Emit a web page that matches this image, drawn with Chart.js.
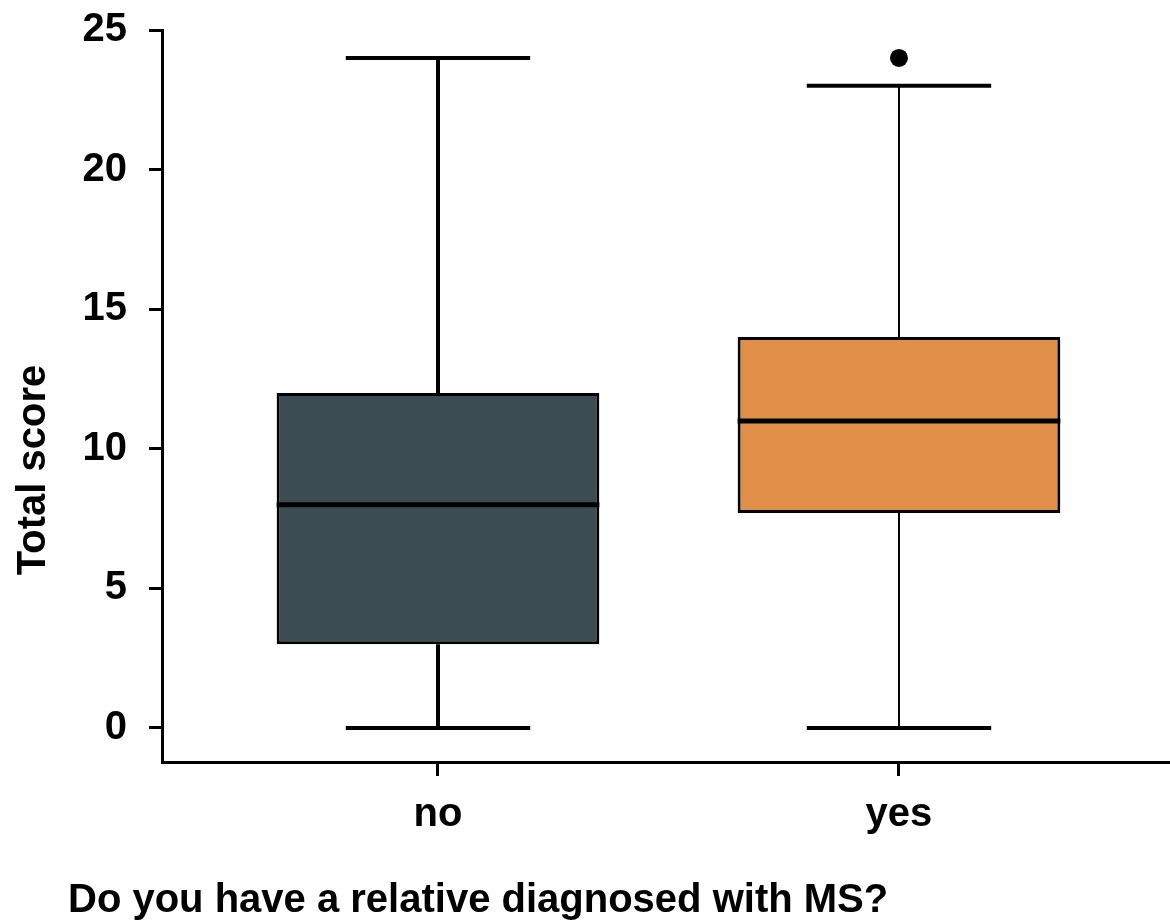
<!DOCTYPE html>
<html>
<head>
<meta charset="utf-8">
<script src="https://cdn.jsdelivr.net/npm/chart.js@4/dist/chart.umd.min.js"></script>
<style>
    body { margin: 0; background: #ffffff; }
    #wrap { width: 1170px; height: 922px; }
</style>
</head>
<body>
<div id="wrap"><canvas id="chartBox" width="1170" height="922"></canvas></div>
<script>
var categories = ["no", "yes"];
var whiskerLow = [0, 0];
var q1 = [3, 7.7];
var medians = [8, 11];
var q3 = [12, 14];
var whiskerHigh = [24, 23];
var outliers = [[], [24]];
var yTickValues = [0, 5, 10, 15, 20, 25];

var xTitle = "Do you have a relative diagnosed with MS?";
var yTitle = "Total score";

var boxColors = ["#3b4d53", "#df8f47"];
var whiskerWidths = [4, 2];
var FONT = "'Liberation Sans', Arial, sans-serif";

var boxData = categories.map(function (c, i) {
    return {x: i + 1, y: [q1[i], q3[i]]};
});
var outlierData = [];
outliers.forEach(function (list, i) {
    list.forEach(function (v) {
        outlierData.push({x: i + 1, y: v});
    });
});

// whiskers, caps and medians drawn on top of the floating bars
var boxPlotLines = {
    id: 'boxPlotLines',
    afterDatasetsDraw: function (chart) {
        var ctx = chart.ctx;
        var x = chart.scales.x;
        var y = chart.scales.y;
        var bars = chart.getDatasetMeta(0).data;
        ctx.save();
        ctx.strokeStyle = "#000";
        ctx.lineCap = "butt";
        categories.forEach(function (c, i) {
            var cx = x.getPixelForValue(i + 1);
            var half = x.getPixelForValue(i + 1.2) - cx;

            ctx.lineWidth = whiskerWidths[i];
            ctx.beginPath();
            ctx.moveTo(cx, y.getPixelForValue(q3[i]));
            ctx.lineTo(cx, y.getPixelForValue(whiskerHigh[i]));
            ctx.moveTo(cx, y.getPixelForValue(q1[i]));
            ctx.lineTo(cx, y.getPixelForValue(whiskerLow[i]));
            ctx.stroke();

            ctx.lineWidth = 4;
            ctx.beginPath();
            ctx.moveTo(cx - half, y.getPixelForValue(whiskerHigh[i]));
            ctx.lineTo(cx + half, y.getPixelForValue(whiskerHigh[i]));
            ctx.moveTo(cx - half, y.getPixelForValue(whiskerLow[i]));
            ctx.lineTo(cx + half, y.getPixelForValue(whiskerLow[i]));
            ctx.stroke();

            var bar = bars[i];
            ctx.lineWidth = 5;
            ctx.beginPath();
            ctx.moveTo(bar.x - bar.width / 2, y.getPixelForValue(medians[i]));
            ctx.lineTo(bar.x + bar.width / 2, y.getPixelForValue(medians[i]));
            ctx.stroke();
        });
        ctx.restore();
    }
};

var axisTitles = {
    id: 'axisTitles',
    afterDraw: function (chart) {
        var ctx = chart.ctx;
        ctx.save();
        ctx.fillStyle = "#000";
        ctx.font = "bold 40px " + FONT;
        ctx.textAlign = "left";
        ctx.textBaseline = "alphabetic";
        ctx.fillText(xTitle, 68, 912);

        ctx.translate(45, 470);
        ctx.rotate(-Math.PI / 2);
        ctx.textAlign = "center";
        ctx.fillText(yTitle, 0, 0);
        ctx.restore();
    }
};

var chart = new Chart("chartBox", {
    type: "bar",
    data: {
        datasets: [{
            data: boxData,
            backgroundColor: boxColors,
            borderColor: "#000",
            borderWidth: 3,
            borderSkipped: false,
            categoryPercentage: 1,
            barPercentage: 0.7
        }, {
            type: "scatter",
            data: outlierData,
            pointRadius: 9,
            pointBackgroundColor: "#000",
            pointBorderWidth: 0
        }]
    },
    options: {
        responsive: false,
        animation: false,
        devicePixelRatio: 1,
        layout: {autoPadding: false, padding: {left: 0, right: 0, top: 30, bottom: 0}},
        plugins: {legend: {display: false}, tooltip: {enabled: false}, title: {display: false}},
        scales: {
            x: {
                type: "linear",
                offset: false,
                min: 0.4013,
                max: 2.5879,
                afterBuildTicks: function (axis) {
                    axis.ticks = categories.map(function (c, i) { return {value: i + 1}; });
                },
                afterFit: function (axis) {
                    axis.height = 160;
                    axis.paddingLeft = 0;
                    axis.paddingRight = 0;
                },
                ticks: {
                    color: "#000",
                    padding: 15,
                    font: {family: FONT, size: 40, weight: "bold"},
                    callback: function (v) { return categories[v - 1]; }
                },
                grid: {offset: false, drawOnChartArea: false, tickLength: 14, tickWidth: 3, tickColor: "#000"},
                border: {display: true, width: 3, color: "#000"}
            },
            y: {
                type: "linear",
                min: -1.218,
                max: 25,
                afterBuildTicks: function (axis) {
                    axis.ticks = yTickValues.map(function (v) { return {value: v}; });
                },
                afterFit: function (axis) {
                    axis.width = 162;
                    axis.paddingTop = 0;
                    axis.paddingBottom = 0;
                },
                ticks: {
                    color: "#000",
                    padding: 22,
                    font: {family: FONT, size: 40, weight: "bold"}
                },
                grid: {drawOnChartArea: false, tickLength: 13, tickWidth: 3, tickColor: "#000"},
                border: {display: true, width: 3, color: "#000"}
            }
        }
    },
    plugins: [boxPlotLines, axisTitles]
});
</script>
</body>
</html>
